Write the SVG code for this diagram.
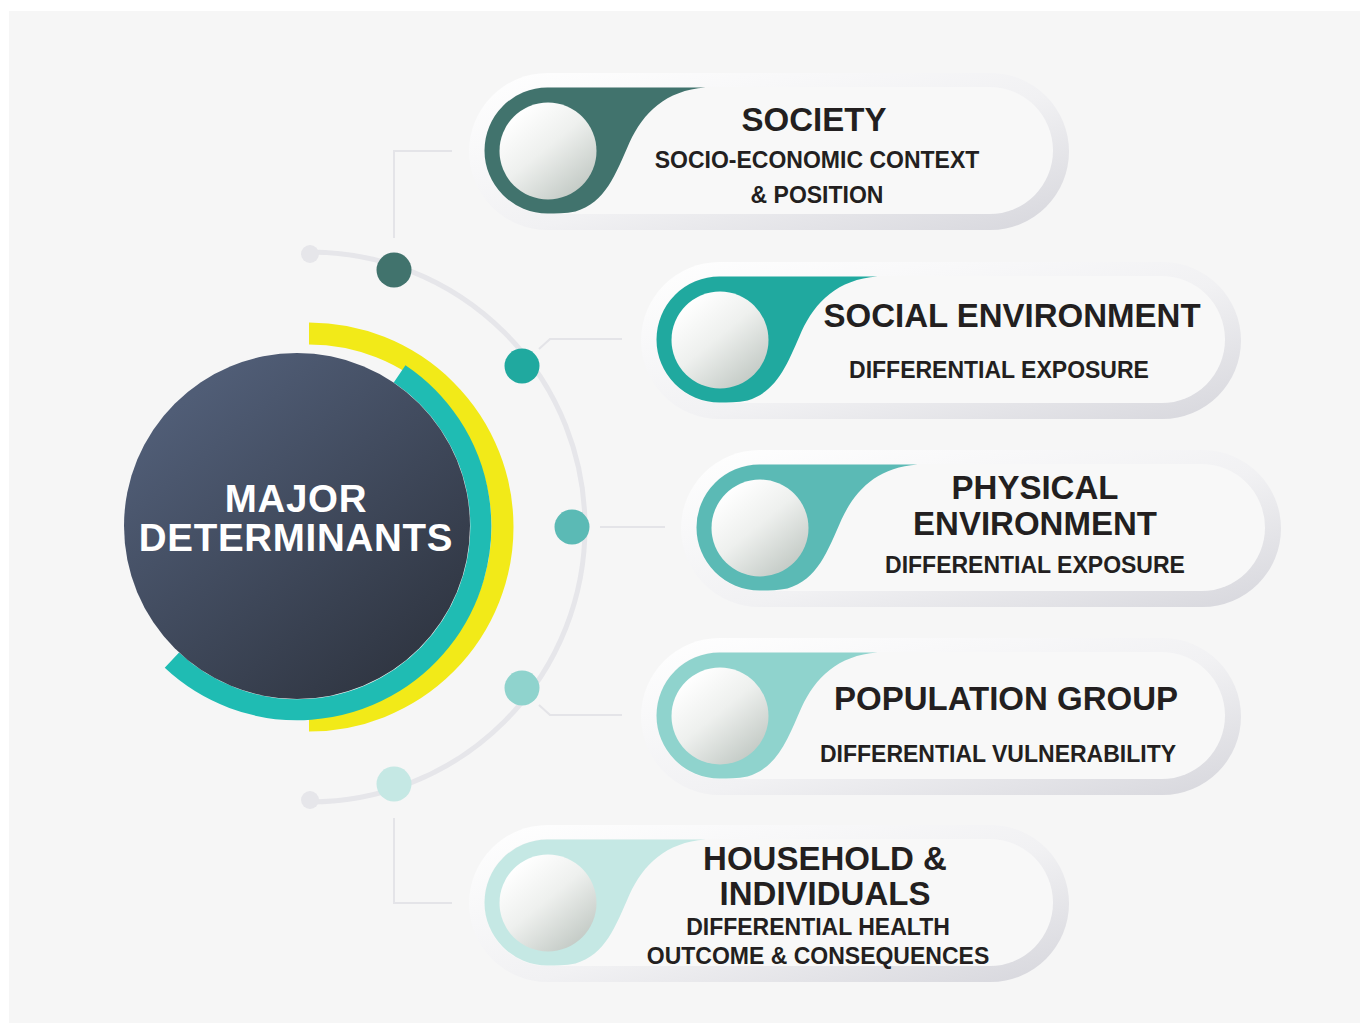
<svg xmlns="http://www.w3.org/2000/svg" width="1360" height="1023" viewBox="0 0 1360 1023">
<defs>
<linearGradient id="gCore" x1="0.2" y1="0.12" x2="0.85" y2="0.92">
<stop offset="0" stop-color="#505d76"/>
<stop offset="1" stop-color="#2f3541"/>
</linearGradient>
<linearGradient id="gRing" x1="0" y1="0" x2="1" y2="1">
<stop offset="0" stop-color="#ffffff"/>
<stop offset="0.55" stop-color="#f1f1f3"/>
<stop offset="1" stop-color="#d6d6dc"/>
</linearGradient>
<linearGradient id="gBall" x1="0.2" y1="0.1" x2="0.85" y2="0.9">
<stop offset="0" stop-color="#ffffff"/>
<stop offset="0.45" stop-color="#eef0ee"/>
<stop offset="1" stop-color="#c3cac5"/>
</linearGradient>
<path id="drop" d="M0,63 A63,63 0 0 1 0,-63 L158,-63 C118,-60 96,-38 82,-8 C68,24 58,52 28,61 C18,63 8,63 0,63 Z"/>
</defs>
<style>
.bg{fill:#f6f6f6}
.ring{fill:url(#gRing)}
.inner{fill:#f8f8f8}
.ball{fill:url(#gBall)}
.conn{fill:none;stroke:#e4e4e8;stroke-width:2}
.arc{fill:none;stroke:#e6e6ea;stroke-width:5}
.t{font-family:"Liberation Sans",Arial,sans-serif;font-weight:bold;fill:#231f20;text-anchor:middle}
.h{font-size:33px}
.s{font-size:23px}
.core{font-family:"Liberation Sans",Arial,sans-serif;font-weight:bold;fill:#ffffff;text-anchor:middle;font-size:38.5px;letter-spacing:0.7px}
</style>
<rect class="bg" x="9" y="11" width="1351" height="1012"/>

<g id="connectors">
<path class="arc" d="M310,252 A275,275 0 0 1 310,802"/>
<polyline class="conn" points="394,238 394,151 452,151"/>
<polyline class="conn" points="539,349 550,339 622,339"/>
<line class="conn" x1="600" y1="527" x2="665" y2="527"/>
<polyline class="conn" points="539,705 550,715 622,715"/>
<polyline class="conn" points="394,818 394,903 452,903"/>
<circle cx="310" cy="254" r="9" fill="#e6e6ea"/>
<circle cx="310" cy="800" r="9" fill="#e6e6ea"/>
<circle cx="394" cy="270" r="17.5" fill="#41736d"/>
<circle cx="522" cy="366" r="17.5" fill="#20a99f"/>
<circle cx="572" cy="527" r="17.5" fill="#5bbab5"/>
<circle cx="522" cy="688" r="17.5" fill="#8fd3cd"/>
<circle cx="394" cy="784" r="17.5" fill="#c5e8e4"/>
</g>

<g id="core">
<path d="M309,333.5 A193.5,193.5 0 0 1 309,720.5" fill="none" stroke="#f2ea18" stroke-width="22"/>
<path d="M399.6,373.9 A183.5,183.5 0 1 1 171.9,660.2" fill="none" stroke="#1fbcb3" stroke-width="21"/>
<circle cx="297" cy="526" r="173" fill="url(#gCore)"/>
<text class="core" x="296" y="512">MAJOR</text>
<text class="core" x="296" y="551">DETERMINANTS</text>
</g>

<g id="society">
<rect class="ring" x="469" y="73" width="600" height="157" rx="78.5"/>
<rect class="inner" x="484" y="87" width="569" height="127" rx="63.5"/>
<use href="#drop" x="547.5" y="150.5" fill="#41736d"/>
<circle class="ball" cx="548" cy="151" r="48.5"/>
<text class="t h" x="814" y="131">SOCIETY</text>
<text class="t s" x="817" y="168">SOCIO-ECONOMIC CONTEXT</text>
<text class="t s" x="817" y="203">&amp; POSITION</text>
</g>

<g id="social-environment">
<rect class="ring" x="641" y="262" width="600" height="157" rx="78.5"/>
<rect class="inner" x="656" y="276" width="569" height="127" rx="63.5"/>
<use href="#drop" x="719.5" y="339.5" fill="#20a99f"/>
<circle class="ball" cx="720" cy="340" r="48.5"/>
<text class="t h" x="1012" y="327">SOCIAL ENVIRONMENT</text>
<text class="t s" x="999" y="378">DIFFERENTIAL EXPOSURE</text>
</g>

<g id="physical-environment">
<rect class="ring" x="681" y="450" width="600" height="157" rx="78.5"/>
<rect class="inner" x="696" y="464" width="569" height="127" rx="63.5"/>
<use href="#drop" x="759.5" y="527.5" fill="#5bbab5"/>
<circle class="ball" cx="760" cy="528" r="48.5"/>
<text class="t h" x="1035" y="499">PHYSICAL</text>
<text class="t h" x="1035" y="535">ENVIRONMENT</text>
<text class="t s" x="1035" y="573">DIFFERENTIAL EXPOSURE</text>
</g>

<g id="population-group">
<rect class="ring" x="641" y="638" width="600" height="157" rx="78.5"/>
<rect class="inner" x="656" y="652" width="569" height="127" rx="63.5"/>
<use href="#drop" x="719.5" y="715.5" fill="#8fd3cd"/>
<circle class="ball" cx="720" cy="716" r="48.5"/>
<text class="t h" x="1006" y="710">POPULATION GROUP</text>
<text class="t s" x="998" y="762">DIFFERENTIAL VULNERABILITY</text>
</g>

<g id="household-individuals">
<rect class="ring" x="469" y="825" width="600" height="157" rx="78.5"/>
<rect class="inner" x="484" y="839" width="569" height="127" rx="63.5"/>
<use href="#drop" x="547.5" y="902.5" fill="#c5e8e4"/>
<circle class="ball" cx="548" cy="903" r="48.5"/>
<text class="t h" x="825" y="870">HOUSEHOLD &amp;</text>
<text class="t h" x="825" y="905">INDIVIDUALS</text>
<text class="t s" x="818" y="935">DIFFERENTIAL HEALTH</text>
<text class="t s" x="818" y="964">OUTCOME &amp; CONSEQUENCES</text>
</g>
</svg>
